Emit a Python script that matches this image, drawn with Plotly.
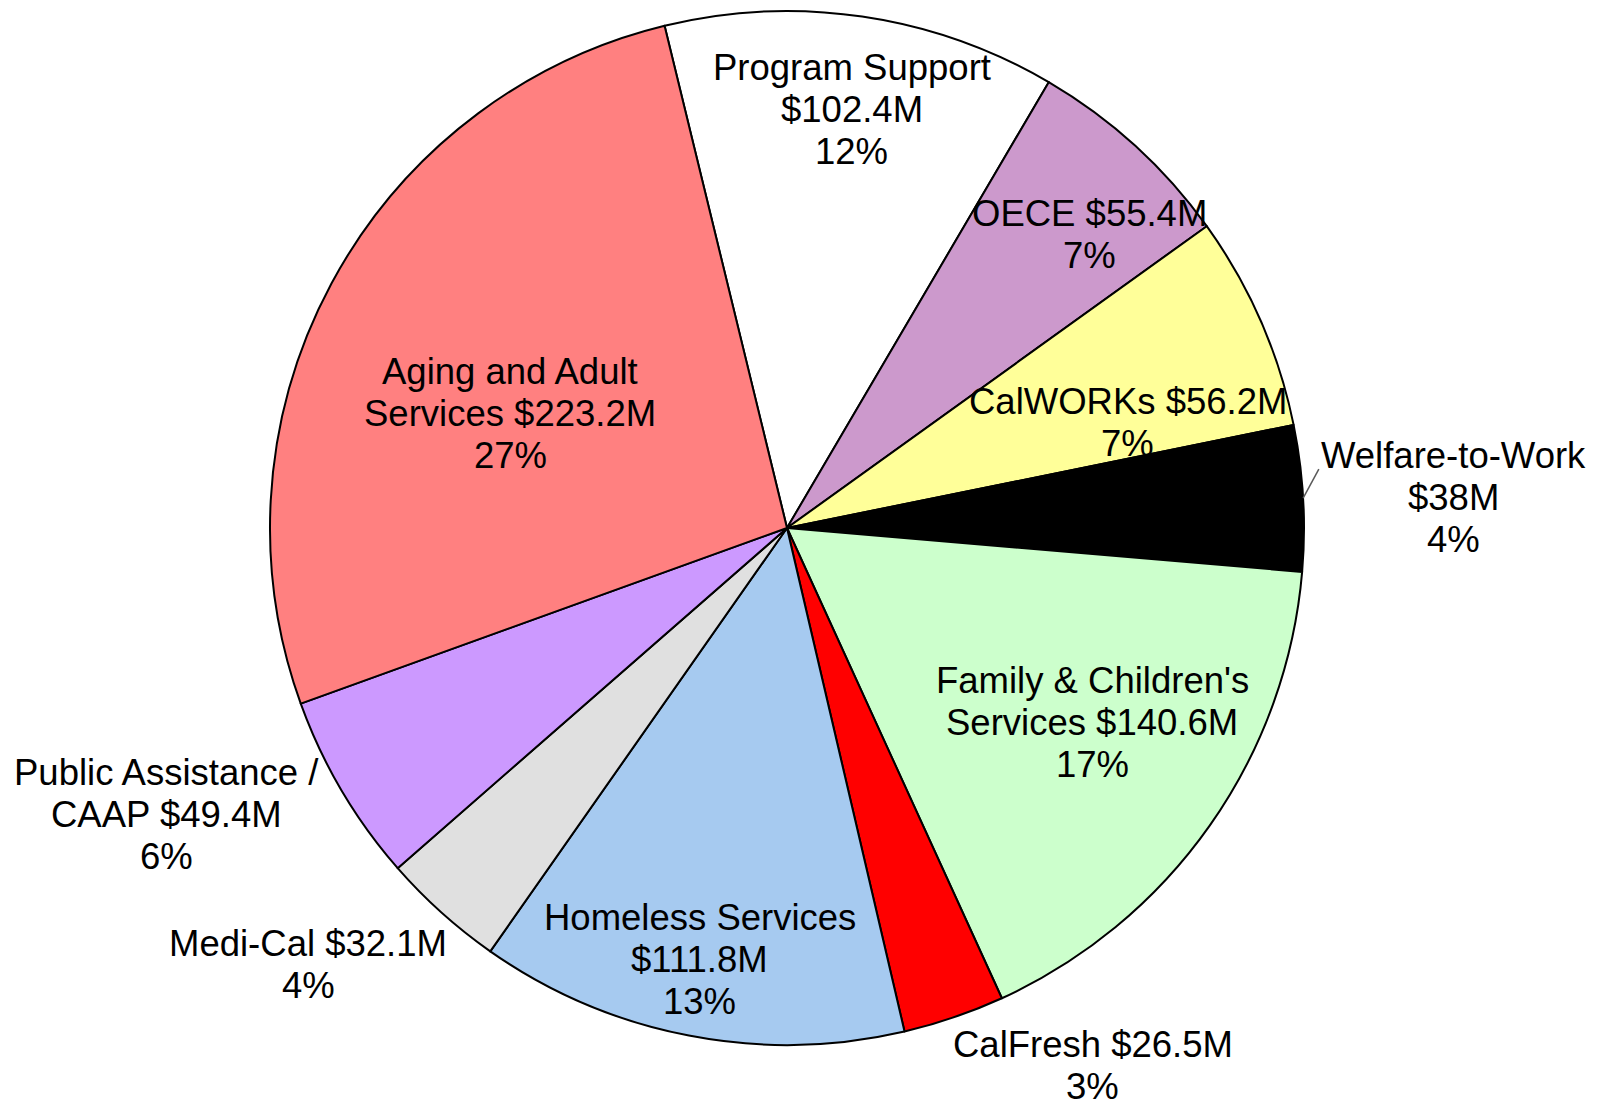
import textwrap
import numpy as np
import plotly.graph_objects as go

# slices, clockwise from the top
names = ["Program Support", "OECE", "CalWORKs", "Welfare-to-Work",
         "Family & Children's Services", "CalFresh", "Homeless Services",
         "Medi-Cal", "Public Assistance / CAAP", "Aging and Adult Services"]
amounts = [102.4, 55.4, 56.2, 38, 140.6, 26.5, 111.8, 32.1, 49.4, 223.2]  # $M
pct_labels = [12, 7, 7, 4, 17, 3, 13, 4, 6, 27]

colors = ["#FFFFFF", "#CC99CC", "#FFFF99", "#000000", "#CCFFCC",
          "#FF0000", "#A6CAF0", "#E0E0E0", "#CC99FF", "#FF8080"]

# page / pie geometry (pixels)
W, H = 1599, 1110
CX, CY, R = 787, 528, 517
ROTATION = -13.7
FONT = "Liberation Sans, Arial, sans-serif"
FONT_SIZE = 36.5
LINE_GAP = 42

# label placement: radius as fraction of pie radius, angle nudge (deg), wrap width
label_r = [0.82, 0.816, 0.69, 1.29, 0.70, 1.196, 0.851, 1.253, 1.323, 0.58]
label_nudge = [0.4, 3.5, 6.4, 0.7, -2.6, -10.8, 0.5, 5.7, 5.7, -5.7]
label_wrap = [15, 11, 15, 15, 19, 15, 17, 15, 19, 16]

total = sum(amounts)
cum = np.cumsum(amounts)
mid_deg = ROTATION + 360 * (cum - np.array(amounts) / 2) / total

fig = go.Figure(go.Pie(
    values=amounts, labels=names, sort=False, direction="clockwise",
    rotation=ROTATION, textinfo="none", showlegend=False,
    marker=dict(colors=colors, line=dict(color="black", width=2)),
    domain=dict(x=[(CX - R) / W, (CX + R) / W],
                y=[(H - CY - R) / H, (H - CY + R) / H]),
))


def to_paper(px, py):
    return px / W, 1 - py / H


annotations = []
for i, name in enumerate(names):
    text = f"{name} ${amounts[i]:g}M"
    lines = textwrap.wrap(text, label_wrap[i], break_on_hyphens=False) + [f"{pct_labels[i]}%"]
    th = np.radians(mid_deg[i] + label_nudge[i])
    px = CX + label_r[i] * R * np.sin(th)
    py = CY - label_r[i] * R * np.cos(th)
    x, y = to_paper(px, py)
    n = len(lines)
    for k, line in enumerate(lines):
        annotations.append(dict(
            x=x, y=y, xref="paper", yref="paper", text=line, showarrow=False,
            xanchor="center", yanchor="middle", yshift=((n - 1) / 2 - k) * LINE_GAP,
            font=dict(family=FONT, size=FONT_SIZE, color="black"),
        ))

# leader line for Welfare-to-Work
i = names.index("Welfare-to-Work")
th0 = np.radians(mid_deg[i])
th1 = np.radians(mid_deg[i] - 3)
x0, y0 = to_paper(CX + R * np.sin(th0), CY - R * np.cos(th0))
x1, y1 = to_paper(CX + 1.035 * R * np.sin(th1), CY - 1.035 * R * np.cos(th1))

fig.update_layout(
    width=W, height=H, margin=dict(l=0, r=0, t=0, b=0),
    paper_bgcolor="white", plot_bgcolor="white",
    annotations=annotations,
    shapes=[dict(type="line", xref="paper", yref="paper", x0=x0, y0=y0, x1=x1, y1=y1,
                 line=dict(color="#595959", width=1.5))],
)

fig.write_html("out.html", config={"displayModeBar": False},
               post_script="document.body.style.margin='0';")
